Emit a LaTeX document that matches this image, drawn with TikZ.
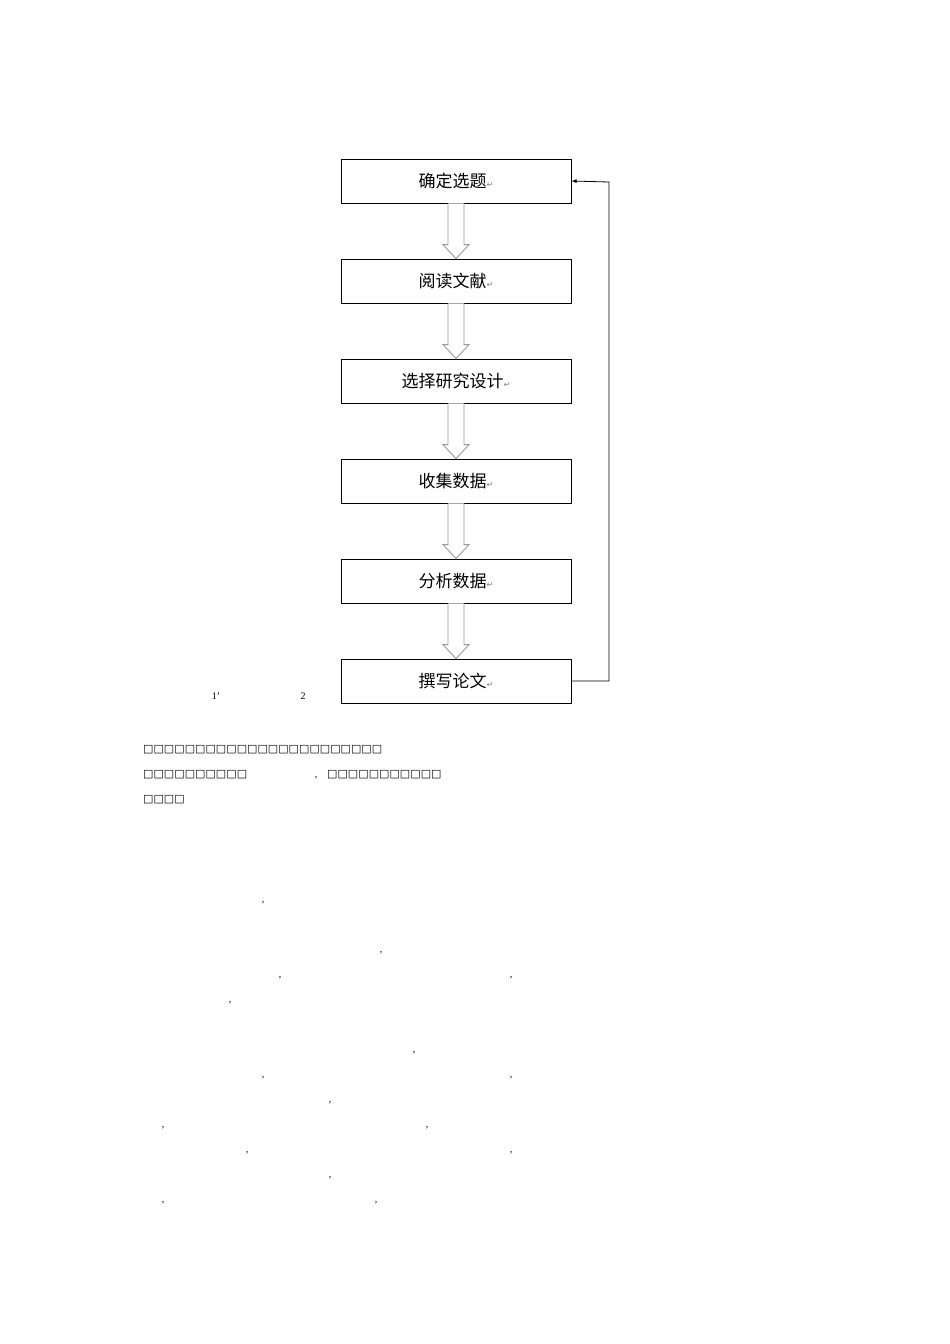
\documentclass[tikz,border=0pt]{standalone}
\usepackage{fontspec}
\newfontfamily\cjk{Noto Sans CJK SC}
\newfontfamily\dv{DejaVu Sans}
\setmainfont{Liberation Serif}
\begin{document}
\begin{tikzpicture}[x=1pt,y=-1pt,
  stepbox/.style={draw,line width=0.8pt,minimum width=230pt,minimum height=44pt,inner sep=0pt,font=\cjk\fontsize{17}{17}\selectfont},
  blk/.style={draw=gray!80,line width=0.9pt,fill=white},
  smalltxt/.style={font=\fontsize{10}{10}\selectfont,inner sep=0pt},
  tofu/.style={font=\dv\fontsize{11}{11}\selectfont,inner sep=0pt,anchor=west}]
\useasboundingbox (0,0) rectangle (950,1344);
\newcommand\rt{\textcolor{gray}{\dv\fontsize{8}{8}\selectfont ↵}}
\foreach \n/\t/\y in {a/确定选题/181,b/阅读文献/281,c/选择研究设计/381,d/收集数据/481,e/分析数据/581,f/撰写论文/681}{
  \node[stepbox] (\n) at (456,\y) {\t\rt};
}
\foreach \u/\v in {a/b,b/c,c/d,d/e,e/f}{
  \draw[blk] ([xshift=-8pt]\u.south) -- ([xshift=-8pt,yshift=14pt]\v.north) -- ([xshift=-13pt,yshift=14pt]\v.north) -- (\v.north) -- ([xshift=13pt,yshift=14pt]\v.north) -- ([xshift=8pt,yshift=14pt]\v.north) -- ([xshift=8pt]\u.south);
}
\coordinate (r1) at (609,681);
\coordinate (r2) at (609,182);
\draw[line width=0.8pt,-latex] (f.east) -- (r1) -- (r2) -- (a.east);
\node[smalltxt] (n1) at (216,696) {1’};
\node[smalltxt] (n2) at (303,696) {2};
\node[tofu] (t1) at (143,750) {□□□□□□□□□□□□□□□□□□□□□□□};
\node[tofu] (t2) at (143,775) {□□□□□□□□□□};
\node[smalltxt] (c0) at (316,778) {,};
\node[tofu] (t3) at (327,775) {□□□□□□□□□□□};
\node[tofu] (t4) at (143,800) {□□□□};
\foreach \x/\y [count=\i] in {263/903,381/953,280/978,511/978,230/1003,414/1053,263/1078,511/1078,330/1103,163/1128,427/1128,247/1153,511/1153,330/1178,163/1203,376/1203}
  \node[smalltxt] (k\i) at (\x,\y) {,};
\end{tikzpicture}
\end{document}
